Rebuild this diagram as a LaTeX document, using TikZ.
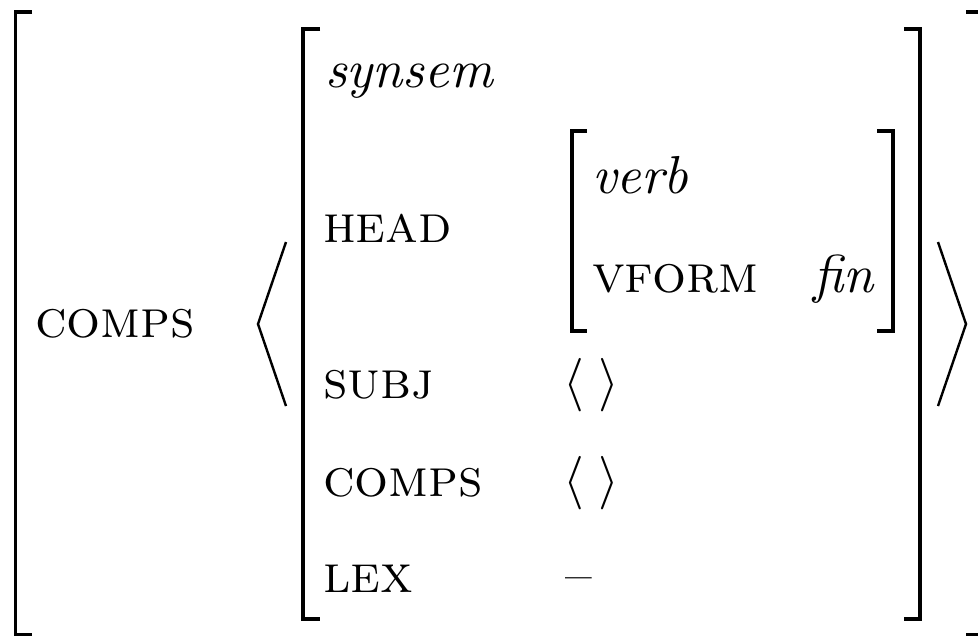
\documentclass[tikz,border=0pt]{standalone}
\begin{document}
\begin{tikzpicture}[x=0.187pt,y=-0.187pt,
  lbl/.style={anchor=base west,inner sep=0pt,outer sep=0pt},
  brk/.style={line width=0.68pt,line cap=butt},
  ibrk/.style={line width=0.6pt},
  ang/.style={line width=0.45pt,line join=miter}]
\useasboundingbox (0,0) rectangle (978,636);
% outer bracket
\draw[brk] (32,12) -- (15.5,12) -- (15.5,634.5) -- (32,634.5);
\draw[brk] (966,12) -- (984,12) -- (984,634.5) -- (966,634.5);
\node[lbl] (comps) at (35,337) {\textsc{comps}};
% list angle brackets
\draw[ang] (286,242) -- (258,324) -- (286,406);
\draw[ang] (938,242) -- (966,324) -- (938,406);
% inner synsem bracket
\draw[ibrk] (320,29) -- (303,29) -- (303,619) -- (320,619);
\draw[ibrk] (904,29) -- (920,29) -- (920,619) -- (904,619);
\node[lbl] (synsem) at (325,87) {\textit{synsem}};
\node[lbl] (head) at (323,242) {\textsc{head}};
% verb bracket
\draw[ibrk] (587,131) -- (572,131) -- (572,331) -- (587,331);
\draw[ibrk] (877,131) -- (893,131) -- (893,331) -- (877,331);
\node[lbl] (verb) at (592,193) {\textit{verb}};
\node[lbl] (vform) at (592,292) {\textsc{vform}};
\node[lbl] (fin) at (813,292) {\textit{fin}};
% remaining rows
\node[lbl] (subj) at (323,398) {\textsc{subj}};
\node[lbl] (subjv) at (563,398) {$\langle\;\rangle$};
\node[lbl] (comps2) at (323,496) {\textsc{comps}};
\node[lbl] (compsv) at (563,496) {$\langle\;\rangle$};
\node[lbl] (lex) at (323,592) {\textsc{lex}};
\node[lbl] (lexv) at (565,592) {--};
\end{tikzpicture}
\end{document}
